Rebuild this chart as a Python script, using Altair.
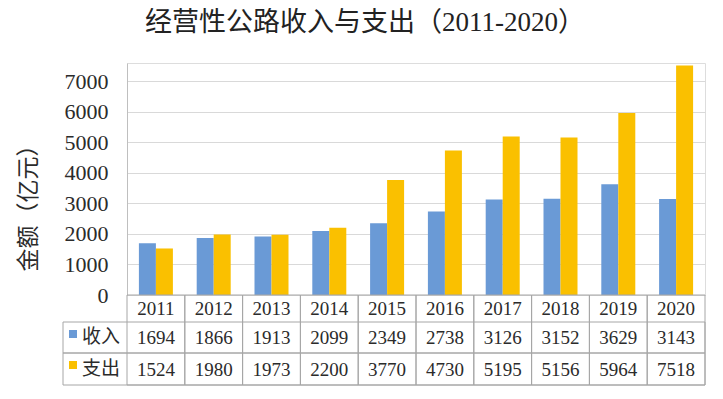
import altair as alt
import pandas as pd

years = ["2011", "2012", "2013", "2014", "2015", "2016", "2017", "2018", "2019", "2020"]
income = [1694, 1866, 1913, 2099, 2349, 2738, 3126, 3152, 3629, 3143]
expense = [1524, 1980, 1973, 2200, 3770, 4730, 5195, 5156, 5964, 7518]
series_names = ["收入", "支出"]
series_colors = ["#6A9AD6", "#FAC000"]
y_ticks = [0, 1000, 2000, 3000, 4000, 5000, 6000, 7000]

title_text = "经营性公路收入与支出（2011-2020）"
y_title = "金额（亿元）"

W, H = 578, 232
NUM_FONT = "Liberation Serif"
CJK_FONT = "Noto Sans CJK SC"
TXT = "#2b2b2b"
GRID_LINE = "#A6A6A6"

long_df = pd.DataFrame(
    [{"year": y, "series": series_names[0], "value": v} for y, v in zip(years, income)]
    + [{"year": y, "series": series_names[1], "value": v} for y, v in zip(years, expense)]
)
year_df = pd.DataFrame({"year": years})
inc_df = pd.DataFrame({"year": years, "value": income})
exp_df = pd.DataFrame({"year": years, "value": expense})
ser_df = pd.DataFrame({"series": series_names})
one = pd.DataFrame({"k": [0]})
title_df = pd.DataFrame({"t": [title_text]})

xscale = alt.Scale(domain=years, paddingInner=0, paddingOuter=0)
color_scale = alt.Scale(domain=series_names, range=series_colors)

bars = alt.Chart(long_df).mark_bar().encode(
    x=alt.X("year:N", scale=xscale, axis=None, sort=years),
    xOffset=alt.XOffset("series:N", scale=alt.Scale(domain=series_names, paddingOuter=0.7, paddingInner=0)),
    y=alt.Y(
        "value:Q",
        scale=alt.Scale(domain=[0, 7600], nice=False),
        axis=alt.Axis(
            values=y_ticks,
            format="d",
            grid=True,
            gridColor="#D9D9D9",
            gridWidth=1,
            domain=True,
            domainColor="#BFBFBF",
            ticks=False,
            labelFont=NUM_FONT,
            labelFontSize=22,
            labelPadding=19,
            labelColor=TXT,
            title=y_title,
            titleFont=CJK_FONT,
            titleFontSize=23,
            titleFontWeight="normal",
            titleColor=TXT,
            titleX=-99,
            titleY=139,
            titleAngle=270,
            titleAlign="center",
            titleBaseline="middle",
        ),
    ),
    color=alt.Color("series:N", scale=color_scale, legend=None),
)

col_rects = alt.Chart(year_df).mark_rect(fillOpacity=0, stroke=GRID_LINE, strokeWidth=1).encode(
    x=alt.X("year:N", scale=xscale, axis=None, sort=years),
    y=alt.value(232),
    y2=alt.value(322),
)

row_rect1 = alt.Chart(one).mark_rect(fillOpacity=0, stroke=GRID_LINE, strokeWidth=1).encode(
    x=alt.value(-64), x2=alt.value(W), y=alt.value(259), y2=alt.value(290)
)
row_rect2 = alt.Chart(one).mark_rect(fillOpacity=0, stroke=GRID_LINE, strokeWidth=1).encode(
    x=alt.value(-64), x2=alt.value(W), y=alt.value(290), y2=alt.value(322)
)

hdr = alt.Chart(year_df).mark_text(font=NUM_FONT, fontSize=19, color=TXT, baseline="middle").encode(
    x=alt.X("year:N", scale=xscale, axis=None, sort=years),
    y=alt.value(246),
    text="year:N",
)
inc_txt = alt.Chart(inc_df).mark_text(font=NUM_FONT, fontSize=19, color=TXT, baseline="middle").encode(
    x=alt.X("year:N", scale=xscale, axis=None, sort=years),
    y=alt.value(275),
    text="value:Q",
)
exp_txt = alt.Chart(exp_df).mark_text(font=NUM_FONT, fontSize=19, color=TXT, baseline="middle").encode(
    x=alt.X("year:N", scale=xscale, axis=None, sort=years),
    y=alt.value(306.5),
    text="value:Q",
)

sw1 = alt.Chart(ser_df).transform_filter(alt.datum.series == series_names[0]).mark_square(size=64, opacity=1).encode(
    x=alt.value(-54), y=alt.value(271), color=alt.Color("series:N", scale=color_scale, legend=None)
)
sw2 = alt.Chart(ser_df).transform_filter(alt.datum.series == series_names[1]).mark_square(size=64, opacity=1).encode(
    x=alt.value(-54), y=alt.value(302), color=alt.Color("series:N", scale=color_scale, legend=None)
)
lab1 = alt.Chart(ser_df).transform_filter(alt.datum.series == series_names[0]).mark_text(
    font=CJK_FONT, fontSize=19, fontWeight="normal", color=TXT, align="left", baseline="middle"
).encode(x=alt.value(-45), y=alt.value(274), text="series:N")
lab2 = alt.Chart(ser_df).transform_filter(alt.datum.series == series_names[1]).mark_text(
    font=CJK_FONT, fontSize=19, fontWeight="normal", color=TXT, align="left", baseline="middle"
).encode(x=alt.value(-45), y=alt.value(305.5), text="series:N")

title_mark = alt.Chart(title_df).mark_text(
    font=NUM_FONT + ", " + CJK_FONT, fontSize=27, fontWeight="normal", color="#222222",
    align="center", baseline="middle",
).encode(x=alt.value(238), y=alt.value(-40), text="t:N")

chart = alt.layer(
    bars, col_rects, row_rect1, row_rect2, hdr, inc_txt, exp_txt, sw1, sw2, lab1, lab2, title_mark
).properties(
    width=W,
    height=H,
    autosize=alt.AutoSizeParams(type="none"),
    padding={"left": 119, "top": 55, "right": 10, "bottom": 96},
).configure_view(stroke=None).configure(background="white")

chart.save("out.html", embed_options={"renderer": "svg", "actions": False})
